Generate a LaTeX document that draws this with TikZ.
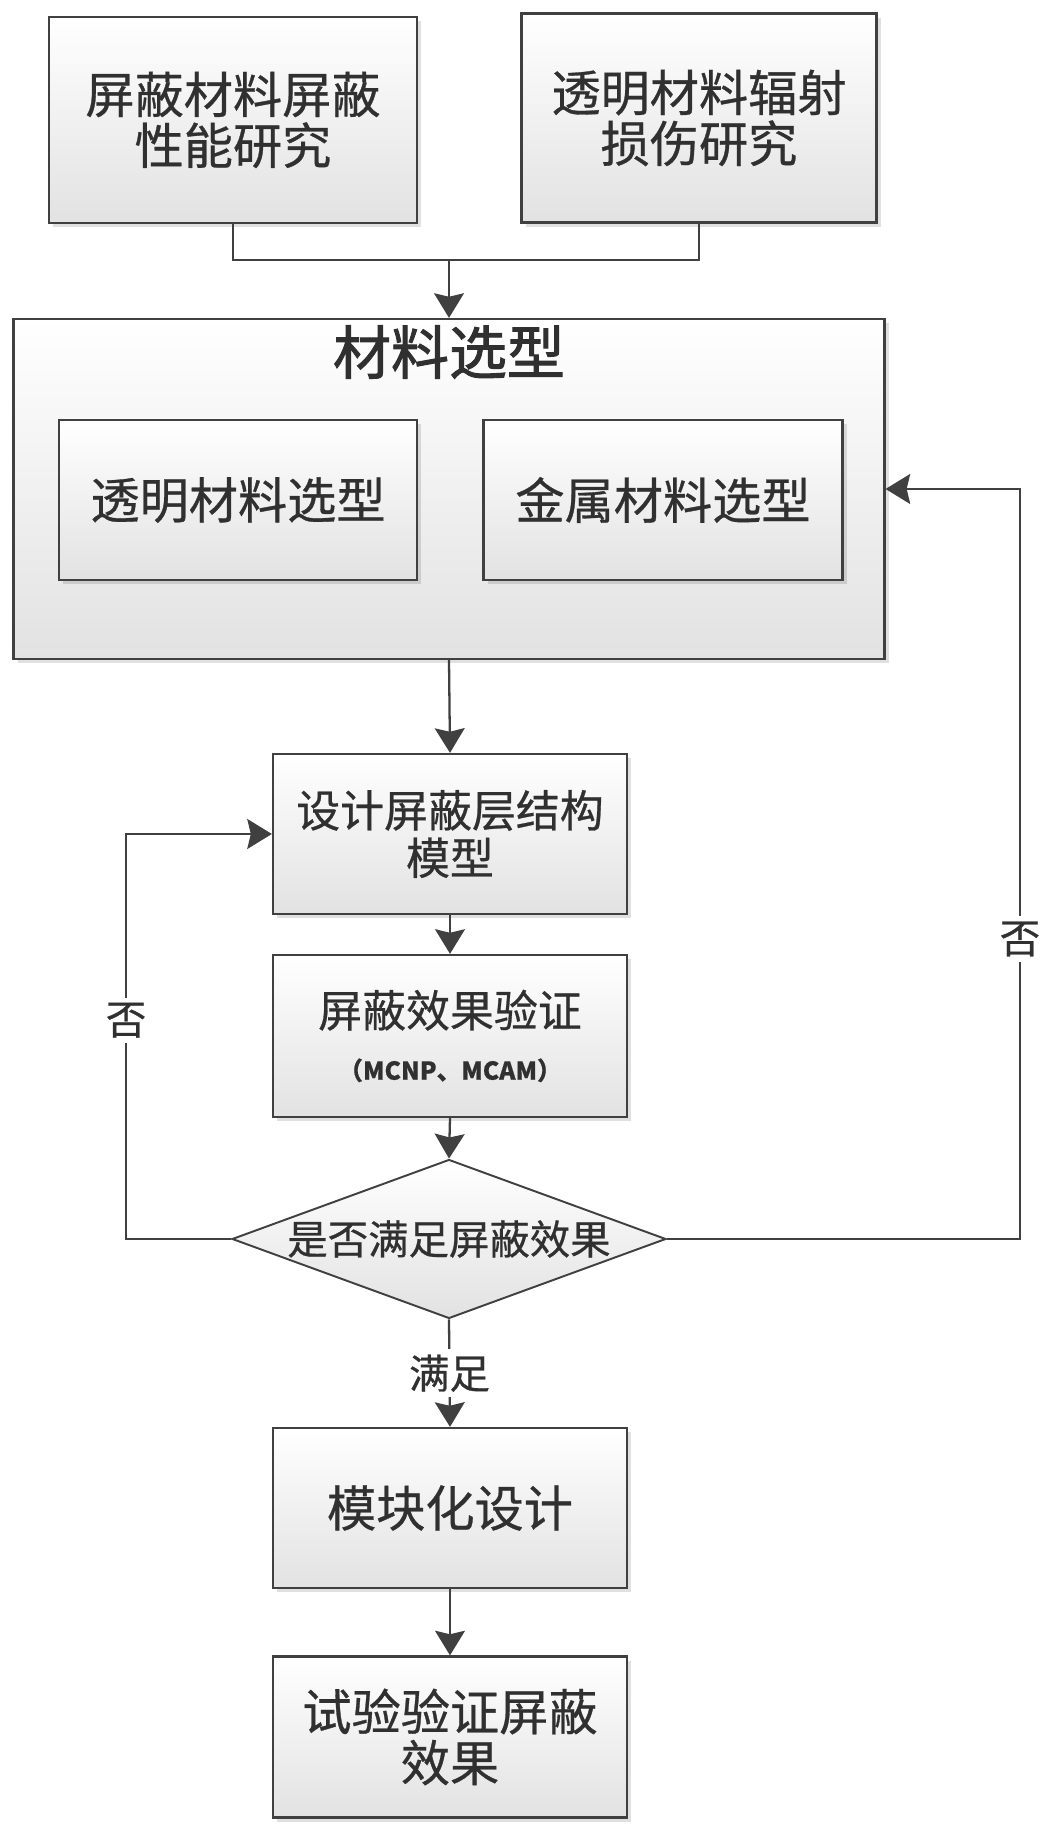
\documentclass[tikz,border=0pt]{standalone}
\usepackage{fontspec}
\setmainfont{Noto Sans CJK SC}[FakeBold=0.6]
\newfontfamily\titlefont{Noto Sans CJK SC}[FakeBold=1.6]
\usepackage{xcolor}
\definecolor{cLine}{HTML}{404040}
\definecolor{cText}{HTML}{303030}
\definecolor{cFill}{HTML}{E2E2E2}
\usepackage{tikz}
\usetikzlibrary{positioning,arrows.meta,shapes.geometric,shadows}
\tikzset{
  node-box/.style={draw=cLine,line width=1.3pt,rectangle,top color=white,
    bottom color=cFill,align=center,text=cText,inner sep=0pt,
    drop shadow={shadow xshift=2.5pt,shadow yshift=-2.5pt,fill=black,opacity=0.12},
    font=\fontsize{28pt}{29pt}\selectfont},
  node-step/.style={node-box,minimum width=7.08cm,minimum height=3.2cm,
    font=\fontsize{25pt}{27pt}\selectfont},
  node-decide/.style={diamond,aspect=2.73,draw=cLine,line width=1.1pt,
    top color=white,bottom color=cFill,inner sep=0pt,text=cText,
    minimum width=8.68cm,minimum height=3.18cm,
    font=\fontsize{23pt}{25pt}\selectfont},
  node-label/.style={fill=white,text=cText,inner sep=3pt,
    font=\fontsize{23pt}{25pt}\selectfont},
  conn-line/.style={draw=cLine,line width=1.3pt},
  arrow/.style={conn-line,-{Stealth[length=14pt,width=17pt,inset=2pt]}},
}

\begin{document}
\begin{tikzpicture}[x=0.02cm,y=0.02cm]
  \useasboundingbox (0,0) rectangle (1063,1838);
  % research boxes
  \node[node-box,minimum width=7.36cm,minimum height=4.12cm] (shieldStudy)
    at (233,1718) {屏蔽材料屏蔽\\性能研究};
  \node[node-box,minimum width=7.1cm,minimum height=4.18cm] (damageStudy)
    at (699,1720) {透明材料辐射\\损伤研究};
  % material selection group
  \node[node-box,minimum width=17.42cm,minimum height=6.8cm] (selGroup)
    at (449,1349) {};
  \node[text=cText,font=\fontsize{33pt}{35pt}\titlefont] (selTitle)
    at (449,1486) {材料选型};
  \node[node-box,minimum width=7.16cm,minimum height=3.2cm] (selGlass)
    at (238,1338) {透明材料选型};
  \node[node-box,minimum width=7.18cm,minimum height=3.2cm] (selMetal)
    at (663,1338) {金属材料选型};
  % design loop
  \node[node-step] (layerModel) at (450,1004) {设计屏蔽层结构\\模型};
  \node[node-step,minimum height=3.24cm] (simCheck) at (450,802)
    {屏蔽效果验证\\[3pt]{\fontsize{14pt}{16pt}\selectfont\bfseries （MCNP、MCAM）}};
  \node[node-decide] (meetCheck) at (449,599) {是否满足屏蔽效果};
  \node[node-box,minimum width=7.08cm,minimum height=3.2cm] (modDesign)
    at (450,330) {模块化设计};
  \node[node-box,minimum width=7.08cm,minimum height=3.22cm] (testCheck)
    at (450,101) {试验验证屏蔽\\效果};

  % connectors
  \coordinate (joinTop) at (449,1578);
  \draw[conn-line] (shieldStudy.south) |- (joinTop) -| (damageStudy.south);
  \draw[arrow] (joinTop) -- (selGroup.north);
  \draw[arrow] (selGroup.south) -- (layerModel.north);
  \draw[arrow] (layerModel.south) -- (simCheck.north);
  \draw[arrow] (simCheck.south) -- (meetCheck.north);
  \draw[arrow] (meetCheck.west) -- ++(-105,0) |- (layerModel.west)
    node[node-label,pos=0.27] (noLeft) {否};
  \draw[arrow] (meetCheck.east) -- (1020,599) |- (selGroup.east)
    node[node-label,pos=0.2] (noRight) {否};
  \draw[arrow] (meetCheck.south) -- (modDesign.north)
    node[node-label,midway] (yesMid) {满足};
  \draw[arrow] (modDesign.south) -- (testCheck.north);
\end{tikzpicture}
\end{document}
